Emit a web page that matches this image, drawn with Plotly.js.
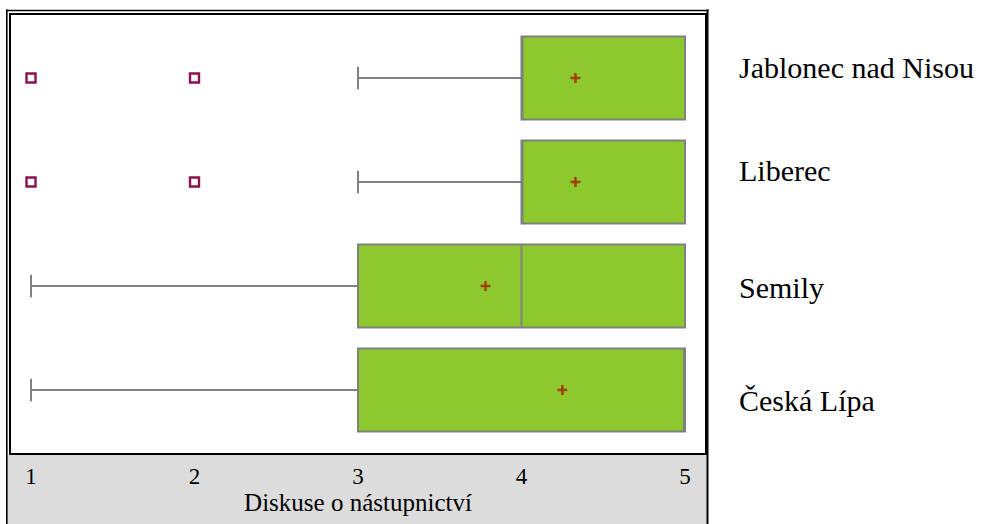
<!DOCTYPE html>
<html><head><meta charset="utf-8">
<script src="https://cdn.plot.ly/plotly-3.0.1.min.js"></script>
<style>html,body{margin:0;padding:0;background:#fff}</style>
</head><body><div id="chart" style="width:990px;height:524px"></div>
<script>
const categories = ['Česká Lípa', 'Semily', 'Liberec', 'Jablonec nad Nisou'];
const q1 = [3, 3, 4, 4];
const median = [5, 4, 4, 4];
const q3 = [5, 5, 5, 5];
const lowerWhisker = [1, 1, 3, 3];
const upperWhisker = [5, 5, 5, 5];
const means = [4.25, 3.78, 4.33, 4.33];
const outlierCats = ['Liberec', 'Liberec', 'Jablonec nad Nisou', 'Jablonec nad Nisou'];
const outlierValues = [1, 2, 1, 2];
const rightLabels = ['Jablonec nad Nisou', 'Liberec', 'Semily', 'Česká Lípa'];
const xTicks = [1, 2, 3, 4, 5];
const xTitle = 'Diskuse o nástupnictví';

const FONT = 'Liberation Serif';
const W = 990, H = 524;
const L = 11, R = 285, T = 15, B = 71;
const pw = W - L - R, ph = H - T - B;
const px = v => (v - L) / pw;
const py = v => (H - B - v) / ph;
const labelPixelY = [67, 170, 287, 400];

const traces = [
  {
    type: 'box', orientation: 'h', y: categories,
    q1: q1, median: median, q3: q3,
    lowerfence: lowerWhisker, upperfence: upperWhisker,
    boxpoints: false, width: 0.8, whiskerwidth: 0.27,
    fillcolor: '#8DC92D', line: {color: '#808080', width: 2},
    hoverinfo: 'skip', showlegend: false
  },
  {
    type: 'scatter', mode: 'markers', x: means, y: categories,
    marker: {symbol: 'cross-thin-open', size: 7, line: {width: 2.5, color: '#A0410D'}, color: '#A0410D'},
    hoverinfo: 'skip', showlegend: false
  },
  {
    type: 'scatter', mode: 'markers', x: outlierValues, y: outlierCats,
    marker: {symbol: 'square-open', size: 9, line: {width: 2.4, color: '#8B1250'}, color: '#8B1250'},
    hoverinfo: 'skip', showlegend: false
  }
];

const annotations = rightLabels.map((t, i) => ({
  text: t, xref: 'paper', yref: 'paper', x: px(737), y: py(labelPixelY[i]),
  xanchor: 'left', yanchor: 'middle', showarrow: false,
  font: {family: FONT, size: 30, color: '#000'}
}));

const unit = (685 - 31) / 4;
const layout = {
  width: W, height: H,
  margin: {l: L, r: R, t: T, b: B, pad: 0},
  paper_bgcolor: '#fff', plot_bgcolor: '#fff',
  showlegend: false,
  xaxis: {
    range: [1 - (31 - L) / unit, 5 + (W - R - 685) / unit], tickvals: xTicks, ticktext: xTicks.map(String),
    showgrid: false, zeroline: false, showline: true, mirror: true, linewidth: 2, linecolor: '#000',
    ticks: '', ticklabelstandoff: 1,
    tickfont: {family: FONT, size: 23, color: '#000'},
    title: {text: xTitle, font: {family: FONT, size: 25, color: '#000'}, standoff: 2}
  },
  yaxis: {
    type: 'category', categoryorder: 'array', categoryarray: categories,
    range: [-0.5 - (ph / 104 - 4) / 2, 3.5 + (ph / 104 - 4) / 2], showticklabels: false,
    showgrid: false, zeroline: false, showline: true, mirror: true, linewidth: 2, linecolor: '#000', ticks: ''
  },
  shapes: [
    {type: 'rect', xref: 'paper', yref: 'paper', x0: px(7), x1: px(707), y0: py(455), y1: py(530),
     fillcolor: '#DCDCDC', line: {width: 0}, layer: 'below'},
    {type: 'line', xref: 'paper', yref: 'paper', x0: px(6.8), x1: px(6.8), y0: py(9.5), y1: py(530), line: {color: '#000', width: 1.6}},
    {type: 'line', xref: 'paper', yref: 'paper', x0: px(6), x1: px(708.5), y0: py(10.5), y1: py(10.5), line: {color: '#000', width: 1.6}},
    {type: 'line', xref: 'paper', yref: 'paper', x0: px(707.5), x1: px(707.5), y0: py(9.5), y1: py(530), line: {color: '#000', width: 2}}
  ],
  annotations: annotations
};

Plotly.newPlot('chart', traces, layout, {staticPlot: true, displayModeBar: false});
</script>
</body></html>
